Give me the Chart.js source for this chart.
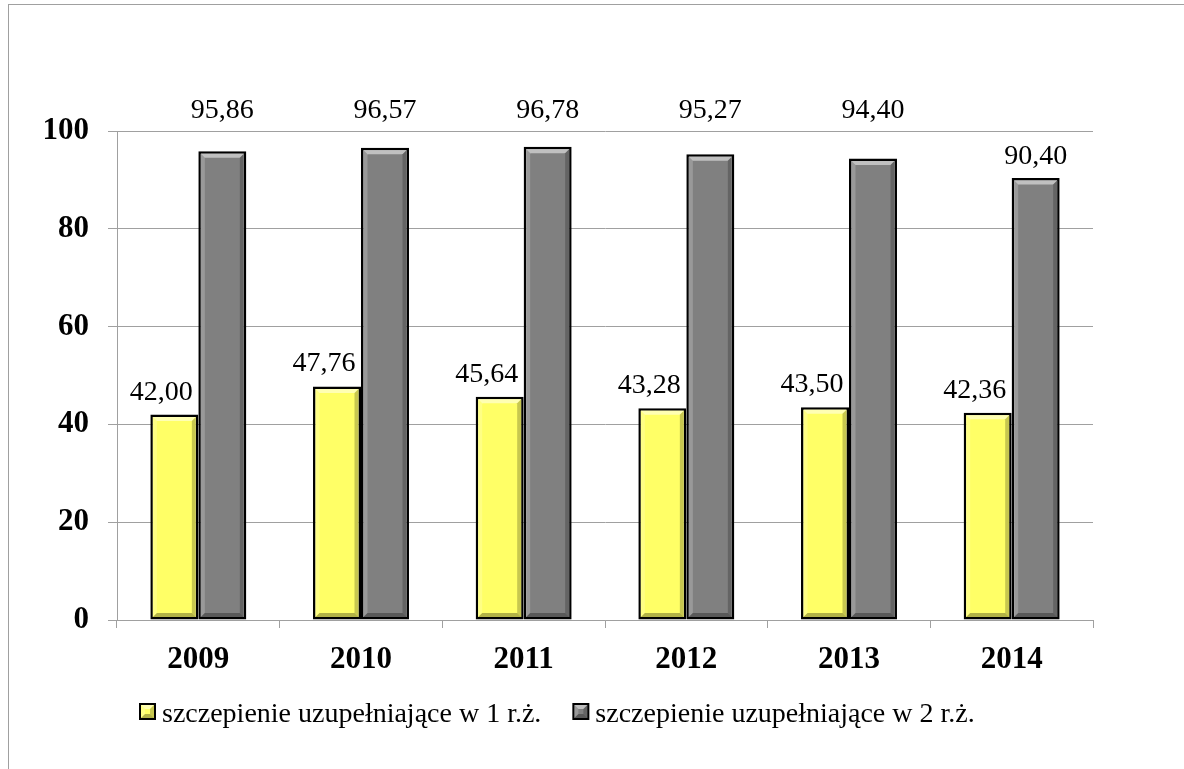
<!DOCTYPE html>
<html>
<head>
<meta charset="utf-8">
<script src="https://cdn.jsdelivr.net/npm/chart.js@4"></script>
<style>
  body { margin: 0; background: #fff; }
  #wrap { position: relative; width: 1184px; height: 769px; overflow: hidden; }
  #frame { position: absolute; left: 8px; top: 4px; width: 1300px; height: 900px;
           border-left: 1px solid #a0a0a0; border-top: 1px solid #a0a0a0; }
  canvas { position: absolute; left: 0; top: 0; }
</style>
</head>
<body>
<div id="wrap">
  <div id="frame"></div>
  <canvas id="vaccChart" width="1184" height="769"></canvas>
</div>
<script>
// Years on the x axis
const years = ['2009', '2010', '2011', '2012', '2013', '2014'];

// Booster vaccination coverage (%)
const firstYear = [42.00, 47.76, 45.64, 43.28, 43.50, 42.36];
const secondYear = [95.86, 96.57, 96.78, 95.27, 94.40, 90.40];

// Y axis ticks
const yTicks = [0, 20, 40, 60, 80, 100];

const seriesNames = ['szczepienie uzupełniające w 1 r.ż.', 'szczepienie uzupełniające w 2 r.ż.'];

const serif = '"Liberation Serif", "Times New Roman", serif';

// Label lift above the bar top, px (the 2nd-year labels were moved by hand in the original)
const labelLift = [
    [15, 15, 15, 15, 15, 15],
    [33, 30, 29, 36, 40, 14]
];
const labelShiftX = [-13, 0];

// Draw a bevel on a rectangle: light top/left, dark right/bottom
function drawBevel(ctx, l, t, r, b, w) {
    const faces = [
        { pts: [[l, t], [r, t], [r - w, t + w], [l + w, t + w]], c: 'rgba(255,255,255,0.5)' },
        { pts: [[l, t], [l + w, t + w], [l + w, b - w], [l, b]], c: 'rgba(255,255,255,0.2)' },
        { pts: [[r, t], [r, b], [r - w, b - w], [r - w, t + w]], c: 'rgba(0,0,0,0.22)' },
        { pts: [[l, b], [r, b], [r - w, b - w], [l + w, b - w]], c: 'rgba(0,0,0,0.3)' }
    ];
    faces.forEach(f => {
        ctx.beginPath();
        ctx.moveTo(f.pts[0][0], f.pts[0][1]);
        for (let i = 1; i < f.pts.length; i++) ctx.lineTo(f.pts[i][0], f.pts[i][1]);
        ctx.closePath();
        ctx.fillStyle = f.c;
        ctx.fill();
    });
}

const bevelAndLabels = {
    id: 'bevelAndLabels',
    afterDatasetsDraw(chart) {
        const ctx = chart.ctx;
        ctx.save();
        chart.data.datasets.forEach((ds, di) => {
            const meta = chart.getDatasetMeta(di);
            meta.data.forEach((bar, i) => {
                const half = bar.width / 2;
                drawBevel(ctx, bar.x - half + 2.5, bar.y + 2.5, bar.x + half - 2.5, bar.base - 2.5, 4);

                ctx.fillStyle = '#000';
                ctx.font = '28px ' + serif;
                ctx.textAlign = 'center';
                ctx.textBaseline = 'alphabetic';
                const text = ds.data[i].toFixed(2).replace('.', ',');
                ctx.fillText(text, bar.x + labelShiftX[di], bar.y - labelLift[di][i]);
            });
        });
        ctx.restore();
    }
};

// Legend drawn by hand so it sits where the original one does
const customLegend = {
    id: 'customLegend',
    afterDraw(chart) {
        const ctx = chart.ctx;
        ctx.save();
        ctx.font = '28px ' + serif;
        ctx.textBaseline = 'alphabetic';
        ctx.textAlign = 'left';
        let x = 139;
        const boxTop = 703, box = 17;
        chart.data.datasets.forEach((ds) => {
            ctx.fillStyle = '#000';
            ctx.fillRect(x, boxTop, box, box);
            ctx.fillStyle = ds.backgroundColor;
            ctx.fillRect(x + 2, boxTop + 2, box - 4, box - 4);
            drawBevel(ctx, x + 2, boxTop + 2, x + box - 2, boxTop + box - 2, 4);
            ctx.fillStyle = '#000';
            ctx.fillText(ds.label, x + box + 6, 722);
            x += box + 6 + ctx.measureText(ds.label).width + 31;
        });
        ctx.restore();
    }
};

const ctx = document.getElementById('vaccChart').getContext('2d');
new Chart(ctx, {
    type: 'bar',
    data: {
        labels: years,
        datasets: [
            {
                label: seriesNames[0],
                data: firstYear,
                backgroundColor: '#FFFF66',
                borderColor: '#000',
                borderWidth: 2.5,
                borderSkipped: false
            },
            {
                label: seriesNames[1],
                data: secondYear,
                backgroundColor: '#808080',
                borderColor: '#000',
                borderWidth: 2.5,
                borderSkipped: false
            }
        ]
    },
    options: {
        responsive: false,
        animation: false,
        devicePixelRatio: 1,
        layout: { padding: { left: 0, top: 131, right: 91, bottom: 0 } },
        datasets: { bar: { categoryPercentage: 0.59, barPercentage: 1 } },
        scales: {
            x: {
                afterFit: (s) => { s.height = 149; },
                grid: {
                    offset: true,
                    drawOnChartArea: false,
                    drawTicks: true,
                    tickLength: 8,
                    color: '#a0a0a0'
                },
                border: { color: '#a0a0a0' },
                ticks: {
                    color: '#000',
                    padding: 13,
                    font: { family: serif, size: 31, weight: 'bold' }
                }
            },
            y: {
                min: 0,
                max: 100,
                afterFit: (s) => { s.width = 117; },
                afterBuildTicks: (s) => { s.ticks = yTicks.map(v => ({ value: v })); },
                grid: { color: '#a0a0a0', tickLength: 9 },
                border: { color: '#a0a0a0' },
                ticks: {
                    color: '#000',
                    padding: 19,
                    font: { family: serif, size: 31, weight: 'bold' }
                }
            }
        },
        plugins: {
            legend: { display: false },
            tooltip: { enabled: false }
        }
    },
    plugins: [bevelAndLabels, customLegend]
});
</script>
</body>
</html>
